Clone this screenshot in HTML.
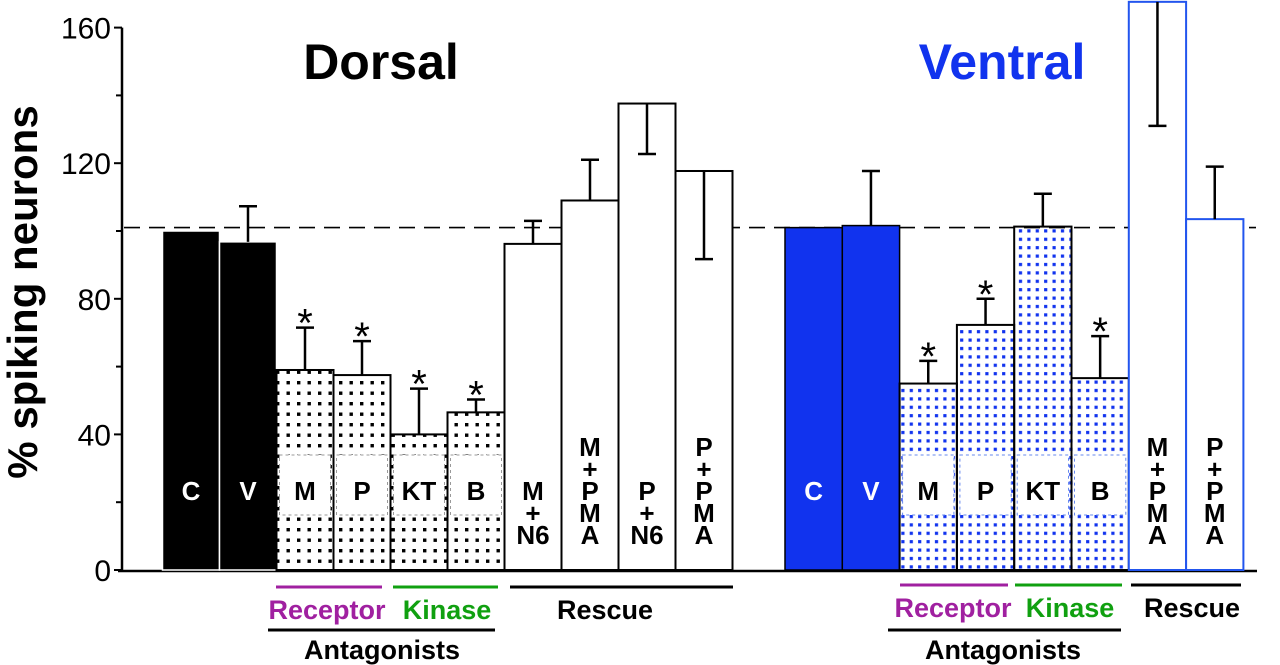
<!DOCTYPE html>
<html><head><meta charset="utf-8"><style>
html,body{margin:0;padding:0;background:#fff;width:1280px;height:665px;overflow:hidden}
svg{display:block}
text{font-family:"Liberation Sans",Arial,sans-serif}
</style></head><body>
<svg id="chart" width="1280" height="665" viewBox="0 0 1280 665" xmlns="http://www.w3.org/2000/svg">
<defs>
<pattern id="dotK" width="10.5" height="10.5" patternUnits="userSpaceOnUse"><rect x="3" y="3" width="3.4" height="3.4" fill="#000"/></pattern>
<pattern id="dotB" width="8.4" height="8.4" patternUnits="userSpaceOnUse"><rect x="2.5" y="2.5" width="3.2" height="3.2" fill="#1133ee"/></pattern>
</defs>
<g id="axes"></g><g id="bars"></g><g id="labels"></g>
</svg>
<script>
const yTicks=[0,40,80,120,160];
const minorTicks=[20,60,100,140];
const dorsalCats=["C","V","M","P","KT","B","M+N6","M+PMA","P+N6","P+PMA"];
const dorsalValues=[100,96.8,59,57.5,40,46.5,96.2,109,137.6,117.7];
const dorsalErrEnd=[100,107.3,71.5,67.5,53.5,50.3,103,121,122.7,91.7];
const dorsalStar=[0,0,1,1,1,1,0,0,0,0];
const ventralCats=["C","V","M","P","KT","B","M+PMA","P+PMA"];
const ventralValues=[101,101.6,55,72.3,101.3,56.6,167.6,103.5];
const ventralErrEnd=[101,117.7,61.7,80,111,69,131,119];
const ventralStar=[0,0,1,1,0,1,0,0];
const refLine=101;

const NS="http://www.w3.org/2000/svg";
const y0=570,pxu=3.39;
function yS(v){return y0-v*pxu;}
function mk(tag,attrs,parent){const e=document.createElementNS(NS,tag);for(const k in attrs)e.setAttribute(k,attrs[k]);parent.appendChild(e);return e;}
const axes=document.getElementById('axes'),bars=document.getElementById('bars'),labels=document.getElementById('labels');

let yl=mk('line',{x1:122,y1:yS(160),x2:122,y2:y0+1,stroke:'#000','stroke-width':2.5},axes);


let xl=mk('line',{x1:118,y1:y0+1,x2:1257,y2:y0+1,stroke:'#000','stroke-width':2.5},axes);


yTicks.forEach(v=>{
  let t=mk('line',{x1:114,x2:122,y1:yS(v),y2:yS(v),stroke:'#000','stroke-width':2},axes);
  
  
  let l=mk('text',{x:111,y:yS(v)+11,'text-anchor':'end','font-size':30,fill:'#000'},axes);
  l.textContent=v;
  
  
});
minorTicks.forEach(v=>{
  let t=mk('line',{x1:116,x2:122,y1:yS(v),y2:yS(v),stroke:'#000','stroke-width':2},axes);
  
  
});
let yt=mk('text',{x:0,y:0,'text-anchor':'middle','font-size':42,'font-weight':'bold',transform:'translate(37,292) rotate(-90)'},axes);
yt.textContent='% spiking neurons';


let rl=mk('line',{x1:124,x2:1256,y1:yS(refLine),y2:yS(refLine),stroke:'#000','stroke-width':1.6,'stroke-dasharray':'16 9'},axes);



function drawGroup(cats,vals,errs,stars,x0,w,group){
  cats.forEach((c,i)=>{
    const x=x0+i*w,top=yS(vals[i]),h=y0-top;
    let fill,stroke='#000',txt='#000';
    const blue=group==='ventral';
    if(c==='C'||c==='V'){fill=blue?'#1133ee':'#000';txt='#fff';}
    else if(c.indexOf('+')<0){fill=blue?'url(#dotB)':'url(#dotK)';}
    else {fill='#fff';if(blue)stroke='#2255ee';}
    let r=mk('rect',{x:x,y:top,width:w,height:h,fill:fill,stroke:(c==='C'||c==='V')?(blue?'#000':'#fff'):stroke,'stroke-width':(c==='C'||c==='V')?1.5:2},bars);
    
    
    const cx=x+w/2;
    if(fill.indexOf('dot')>=0){
      let b=mk('rect',{x:x+3,y:455,width:w-6,height:60,fill:'#fff',stroke:blue?'#6688ee':'#999','stroke-width':1,'stroke-dasharray':'3 3'},bars);
      
      
    }
    if(errs[i]!==vals[i]){
      const ye=yS(errs[i]);
      let e=mk('line',{x1:cx,x2:cx,y1:top,y2:ye,stroke:'#000','stroke-width':2.5},bars);
      
      
      let cap=mk('line',{x1:cx-9,x2:cx+9,y1:ye,y2:ye,stroke:'#000','stroke-width':2.5},bars);
      
      
    }
    if(stars[i]){
      let s=mk('text',{x:cx,y:Math.min(yS(errs[i]),top)+9,'text-anchor':'middle','font-size':40,'font-family':'Liberation Serif, serif'},labels);
      s.textContent='*';
      
      
    }
    const parts=c.indexOf('+')>=0?(c.split('+')[1]==='PMA'?[c.split('+')[0],'+','P','M','A']:[c.split('+')[0],'+',c.split('+')[1]]):[c];
    const lh=22,bottomY=c.indexOf('+')>=0?544:500;
    parts.forEach((p,k)=>{
      let t=mk('text',{x:cx,y:bottomY-(parts.length-1-k)*lh,'text-anchor':'middle','font-size':26,'font-weight':'bold',fill:txt},labels);
      t.textContent=p;
      
      
    });
  });
}
drawGroup(dorsalCats,dorsalValues,dorsalErrEnd,dorsalStar,162.5,57,'dorsal');
drawGroup(ventralCats,ventralValues,ventralErrEnd,ventralStar,785,57.3,'ventral');

function txt(s,x,y,size,color,name){let t=mk('text',{x:x,y:y,'text-anchor':'middle','font-size':size,'font-weight':'bold',fill:color},labels);t.textContent=s;}
function ln(x1,x2,y,color,name){let l=mk('line',{x1:x1,x2:x2,y1:y,y2:y,stroke:color,'stroke-width':3},labels);}
txt('Dorsal',381,79,50,'#000','dorsal-title');
txt('Ventral',1002,79,50,'#1133ee','ventral-title');
ln(276,382,587,'#a020a0','dorsal-receptor-bracket');ln(393,498,587,'#10a010','dorsal-kinase-bracket');ln(510,733,587,'#000','dorsal-rescue-bracket');
txt('Receptor',327,619,27,'#a020a0','dorsal-receptor-label');txt('Kinase',447,619,27,'#10a010','dorsal-kinase-label');txt('Rescue',605,619,27,'#000','dorsal-rescue-label');
ln(268,495,630,'#000','dorsal-antagonists-bracket');txt('Antagonists',382,659,27,'#000','dorsal-antagonists-label');
ln(900,1008,585,'#a020a0','ventral-receptor-bracket');ln(1015,1122,585,'#10a010','ventral-kinase-bracket');ln(1131,1241,585,'#000','ventral-rescue-bracket');
txt('Receptor',953,617,27,'#a020a0','ventral-receptor-label');txt('Kinase',1070,617,27,'#10a010','ventral-kinase-label');txt('Rescue',1192,617,27,'#000','ventral-rescue-label');
ln(888,1121,630,'#000','ventral-antagonists-bracket');txt('Antagonists',1003,659,27,'#000','ventral-antagonists-label');
</script>
</body></html>
